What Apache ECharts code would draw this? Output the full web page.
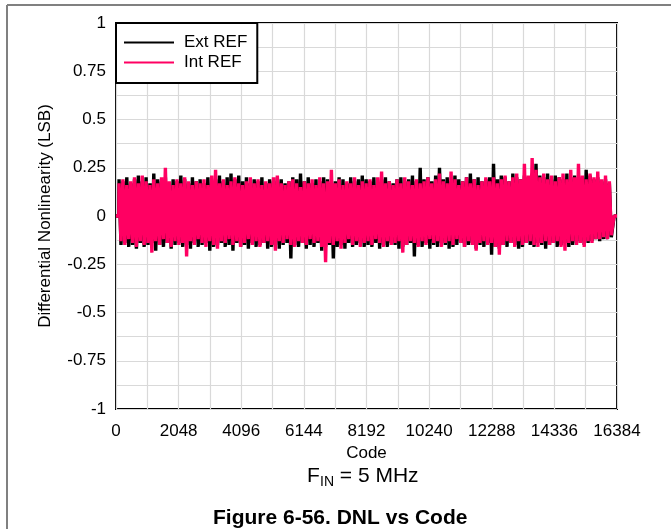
<!DOCTYPE html>
<html>
<head>
<meta charset="utf-8">
<script src="https://cdn.jsdelivr.net/npm/echarts@6/dist/echarts.min.js"></script>
<style>
html,body{margin:0;padding:0;background:#fff;}
#c{width:671px;height:529px;}
</style>
</head>
<body>
<div id="c"></div>
<script>
// ---- Data (envelope of DNL per block of ~126 codes) ----
var xTickLabels = [0, 2048, 4096, 6144, 8192, 10240, 12288, 14336, 16384];
var yTickLabels = [-1, -0.75, -0.5, -0.25, 0, 0.25, 0.5, 0.75, 1];
var seriesNames = ['Ext REF', 'Int REF'];

var extHi = [0.19,0.18,0.2,0.17,0.19,0.21,0.18,0.2,0.17,0.22,0.19,0.18,0.2,0.17,0.19,0.18,0.21,0.19,0.17,0.2,0.18,0.19,0.17,0.2,0.18,0.19,0.21,0.18,0.2,0.22,0.19,0.21,
0.18,0.2,0.17,0.19,0.18,0.2,0.17,0.19,0.18,0.2,0.19,0.17,0.18,0.2,0.19,0.22,0.18,0.2,0.17,0.19,0.18,0.2,0.19,0.17,0.18,0.2,0.19,0.17,0.2,0.18,0.19,0.21,
0.19,0.18,0.2,0.17,0.19,0.2,0.18,0.17,0.19,0.2,0.18,0.19,0.21,0.18,0.25,0.19,0.2,0.18,0.21,0.25,0.19,0.2,0.18,0.21,0.19,0.18,0.2,0.22,0.19,0.2,0.18,0.19,
0.2,0.27,0.19,0.21,0.2,0.18,0.22,0.2,0.19,0.21,0.2,0.22,0.27,0.21,0.2,0.22,0.19,0.21,0.2,0.19,0.22,0.2,0.21,0.19,0.2,0.24,0.21,0.19,0.2,0.18,0.19,0.17];
var extLo = [-0.15,-0.14,-0.16,-0.15,-0.17,-0.14,-0.16,-0.15,-0.14,-0.18,-0.15,-0.16,-0.14,-0.17,-0.15,-0.14,-0.16,-0.15,-0.17,-0.14,-0.16,-0.15,-0.14,-0.18,-0.16,-0.15,-0.14,-0.16,-0.15,-0.18,-0.14,-0.16,
-0.15,-0.17,-0.14,-0.16,-0.15,-0.14,-0.17,-0.16,-0.15,-0.17,-0.15,-0.14,-0.22,-0.15,-0.16,-0.14,-0.17,-0.15,-0.16,-0.14,-0.18,-0.16,-0.15,-0.22,-0.16,-0.15,-0.17,-0.14,-0.16,-0.15,-0.14,-0.16,
-0.15,-0.16,-0.14,-0.17,-0.15,-0.16,-0.14,-0.15,-0.17,-0.16,-0.15,-0.14,-0.21,-0.15,-0.16,-0.14,-0.17,-0.15,-0.16,-0.14,-0.15,-0.17,-0.16,-0.15,-0.14,-0.16,-0.15,-0.14,-0.17,-0.15,-0.16,-0.14,
-0.2,-0.16,-0.17,-0.15,-0.16,-0.14,-0.15,-0.17,-0.16,-0.14,-0.15,-0.16,-0.14,-0.15,-0.17,-0.15,-0.14,-0.16,-0.15,-0.14,-0.16,-0.15,-0.14,-0.13,-0.15,-0.14,-0.13,-0.12,-0.13,-0.12,-0.12,-0.11];
var intHi = [0.17,0.19,0.16,0.18,0.2,0.17,0.21,0.18,0.16,0.19,0.17,0.2,0.25,0.18,0.16,0.19,0.17,0.2,0.18,0.16,0.18,0.17,0.19,0.16,0.21,0.24,0.17,0.19,0.16,0.18,0.2,0.17,
0.16,0.18,0.2,0.17,0.19,0.16,0.18,0.17,0.2,0.21,0.17,0.16,0.18,0.19,0.17,0.15,0.18,0.17,0.19,0.16,0.2,0.17,0.18,0.24,0.17,0.19,0.16,0.18,0.17,0.2,0.16,0.18,
0.17,0.19,0.16,0.2,0.23,0.17,0.18,0.16,0.19,0.17,0.2,0.18,0.16,0.19,0.17,0.18,0.2,0.17,0.19,0.22,0.18,0.17,0.23,0.19,0.16,0.18,0.2,0.17,0.19,0.16,0.18,0.2,
0.18,0.2,0.17,0.19,0.21,0.18,0.2,0.22,0.19,0.27,0.21,0.3,0.24,0.2,0.22,0.19,0.21,0.18,0.2,0.22,0.19,0.24,0.2,0.27,0.21,0.19,0.22,0.2,0.23,0.19,0.21,0.18];
var intLo = [-0.13,-0.15,-0.12,-0.14,-0.16,-0.13,-0.15,-0.14,-0.19,-0.13,-0.15,-0.12,-0.14,-0.16,-0.13,-0.15,-0.14,-0.21,-0.13,-0.15,-0.12,-0.14,-0.16,-0.13,-0.15,-0.17,-0.13,-0.14,-0.12,-0.15,-0.13,-0.16,
-0.14,-0.12,-0.15,-0.13,-0.16,-0.14,-0.13,-0.15,-0.18,-0.13,-0.14,-0.12,-0.15,-0.16,-0.13,-0.14,-0.15,-0.12,-0.14,-0.13,-0.16,-0.24,-0.14,-0.15,-0.13,-0.17,-0.14,-0.12,-0.15,-0.13,-0.16,-0.14,
-0.13,-0.15,-0.12,-0.14,-0.16,-0.13,-0.15,-0.14,-0.13,-0.19,-0.15,-0.13,-0.14,-0.16,-0.13,-0.15,-0.12,-0.14,-0.13,-0.16,-0.14,-0.13,-0.15,-0.12,-0.14,-0.16,-0.13,-0.15,-0.18,-0.14,-0.13,-0.15,
-0.14,-0.16,-0.2,-0.15,-0.13,-0.14,-0.16,-0.13,-0.15,-0.14,-0.13,-0.15,-0.16,-0.14,-0.13,-0.15,-0.14,-0.13,-0.16,-0.18,-0.14,-0.13,-0.15,-0.14,-0.16,-0.13,-0.14,-0.12,-0.12,-0.11,-0.12,-0.1];

// code range covered by the noisy band, edges are at zero
var bandStart = 100, bandEnd = 16260, lastCode = 16383;

function buildSeries(hi, lo) {
  var n = hi.length, step = (bandEnd - bandStart) / n, pts = [[0, 0], [bandStart - 10, 0]];
  for (var i = 0; i < n; i++) {
    pts.push([Math.round(bandStart + step * i), hi[i]]);
    pts.push([Math.round(bandStart + step * i + step / 2), lo[i]]);
  }
  pts.push([bandEnd + 30, 0]);
  pts.push([lastCode, 0]);
  return pts;
}

var FONT = 'Liberation Sans';
var plain = function (v) { return String(v); };
var chart = echarts.init(document.getElementById('c'), null, {renderer: 'canvas'});
chart.setOption({
  animation: false,
  backgroundColor: '#fff',
  grid: {left: 116, right: 54, top: 23, bottom: 120, show: true, borderColor: '#000', borderWidth: 2, backgroundColor: 'transparent'},
  legend: {
    data: seriesNames, left: 116, top: 23, orient: 'vertical',
    backgroundColor: '#fff', borderColor: '#000', borderWidth: 2, borderRadius: 0,
    padding: [11, 10, 12, 8], itemGap: 3, itemWidth: 50, itemHeight: 2, icon: 'rect',
    textStyle: {fontFamily: FONT, fontSize: 17, color: '#000', padding: [0, 0, 0, 5]},
    selectedMode: false, z: 10
  },
  xAxis: {
    type: 'value', min: xTickLabels[0], max: xTickLabels[xTickLabels.length - 1], interval: 2048,
    name: 'Code', nameLocation: 'middle', nameGap: 30,
    nameTextStyle: {fontFamily: FONT, fontSize: 17, color: '#000'},
    axisLine: {show: false}, axisTick: {show: false},
    axisLabel: {fontFamily: FONT, fontSize: 17, color: '#000', margin: 14, formatter: plain},
    splitLine: {show: true, lineStyle: {color: '#d9d9d9', width: 1.2}},
    minorTick: {show: false, splitNumber: 2},
    minorSplitLine: {show: true, lineStyle: {color: '#d9d9d9', width: 1.2}}
  },
  yAxis: {
    type: 'value', min: yTickLabels[0], max: yTickLabels[yTickLabels.length - 1], interval: 0.25,
    name: 'Differential Nonlinearity (LSB)', nameLocation: 'middle', nameGap: 62,
    nameTextStyle: {fontFamily: FONT, fontSize: 17, color: '#000'},
    axisLine: {show: false}, axisTick: {show: false},
    axisLabel: {fontFamily: FONT, fontSize: 17, color: '#000', margin: 10, formatter: plain},
    splitLine: {show: true, lineStyle: {color: '#d9d9d9', width: 1.2}},
    minorTick: {show: false, splitNumber: 2},
    minorSplitLine: {show: true, lineStyle: {color: '#d9d9d9', width: 1.2}}
  },
  series: [
    {name: seriesNames[0], type: 'line', data: buildSeries(extHi, extLo), showSymbol: false, symbol: 'none',
     lineStyle: {color: '#000', width: 3.4}, itemStyle: {color: '#000'}, sampling: null, z: 2},
    {name: seriesNames[1], type: 'line', data: buildSeries(intHi, intLo), showSymbol: false, symbol: 'none',
     lineStyle: {color: '#ff0062', width: 3.4}, itemStyle: {color: '#ff0062'}, sampling: null, z: 3}
  ],
  graphic: [
    {type: 'line', shape: {x1: 7, y1: 5, x2: 7, y2: 529}, style: {stroke: '#808080', lineWidth: 2}},
    {type: 'line', shape: {x1: 7, y1: 5, x2: 671, y2: 5}, style: {stroke: '#808080', lineWidth: 2}},
    {type: 'text', left: 307, top: 466, style: {text: 'F', fontFamily: FONT, fontSize: 21, fill: '#000'}},
    {type: 'text', left: 320, top: 475, style: {text: 'IN', fontFamily: FONT, fontSize: 14, fill: '#000'}},
    {type: 'text', left: 334, top: 466, style: {text: ' = 5 MHz', fontFamily: FONT, fontSize: 21, fill: '#000'}},
    {type: 'text', left: 213, top: 508, style: {text: 'Figure 6-56. DNL vs Code', fontFamily: FONT, fontSize: 21, fontWeight: 'bold', fill: '#000'}}
  ]
});
</script>
</body>
</html>
